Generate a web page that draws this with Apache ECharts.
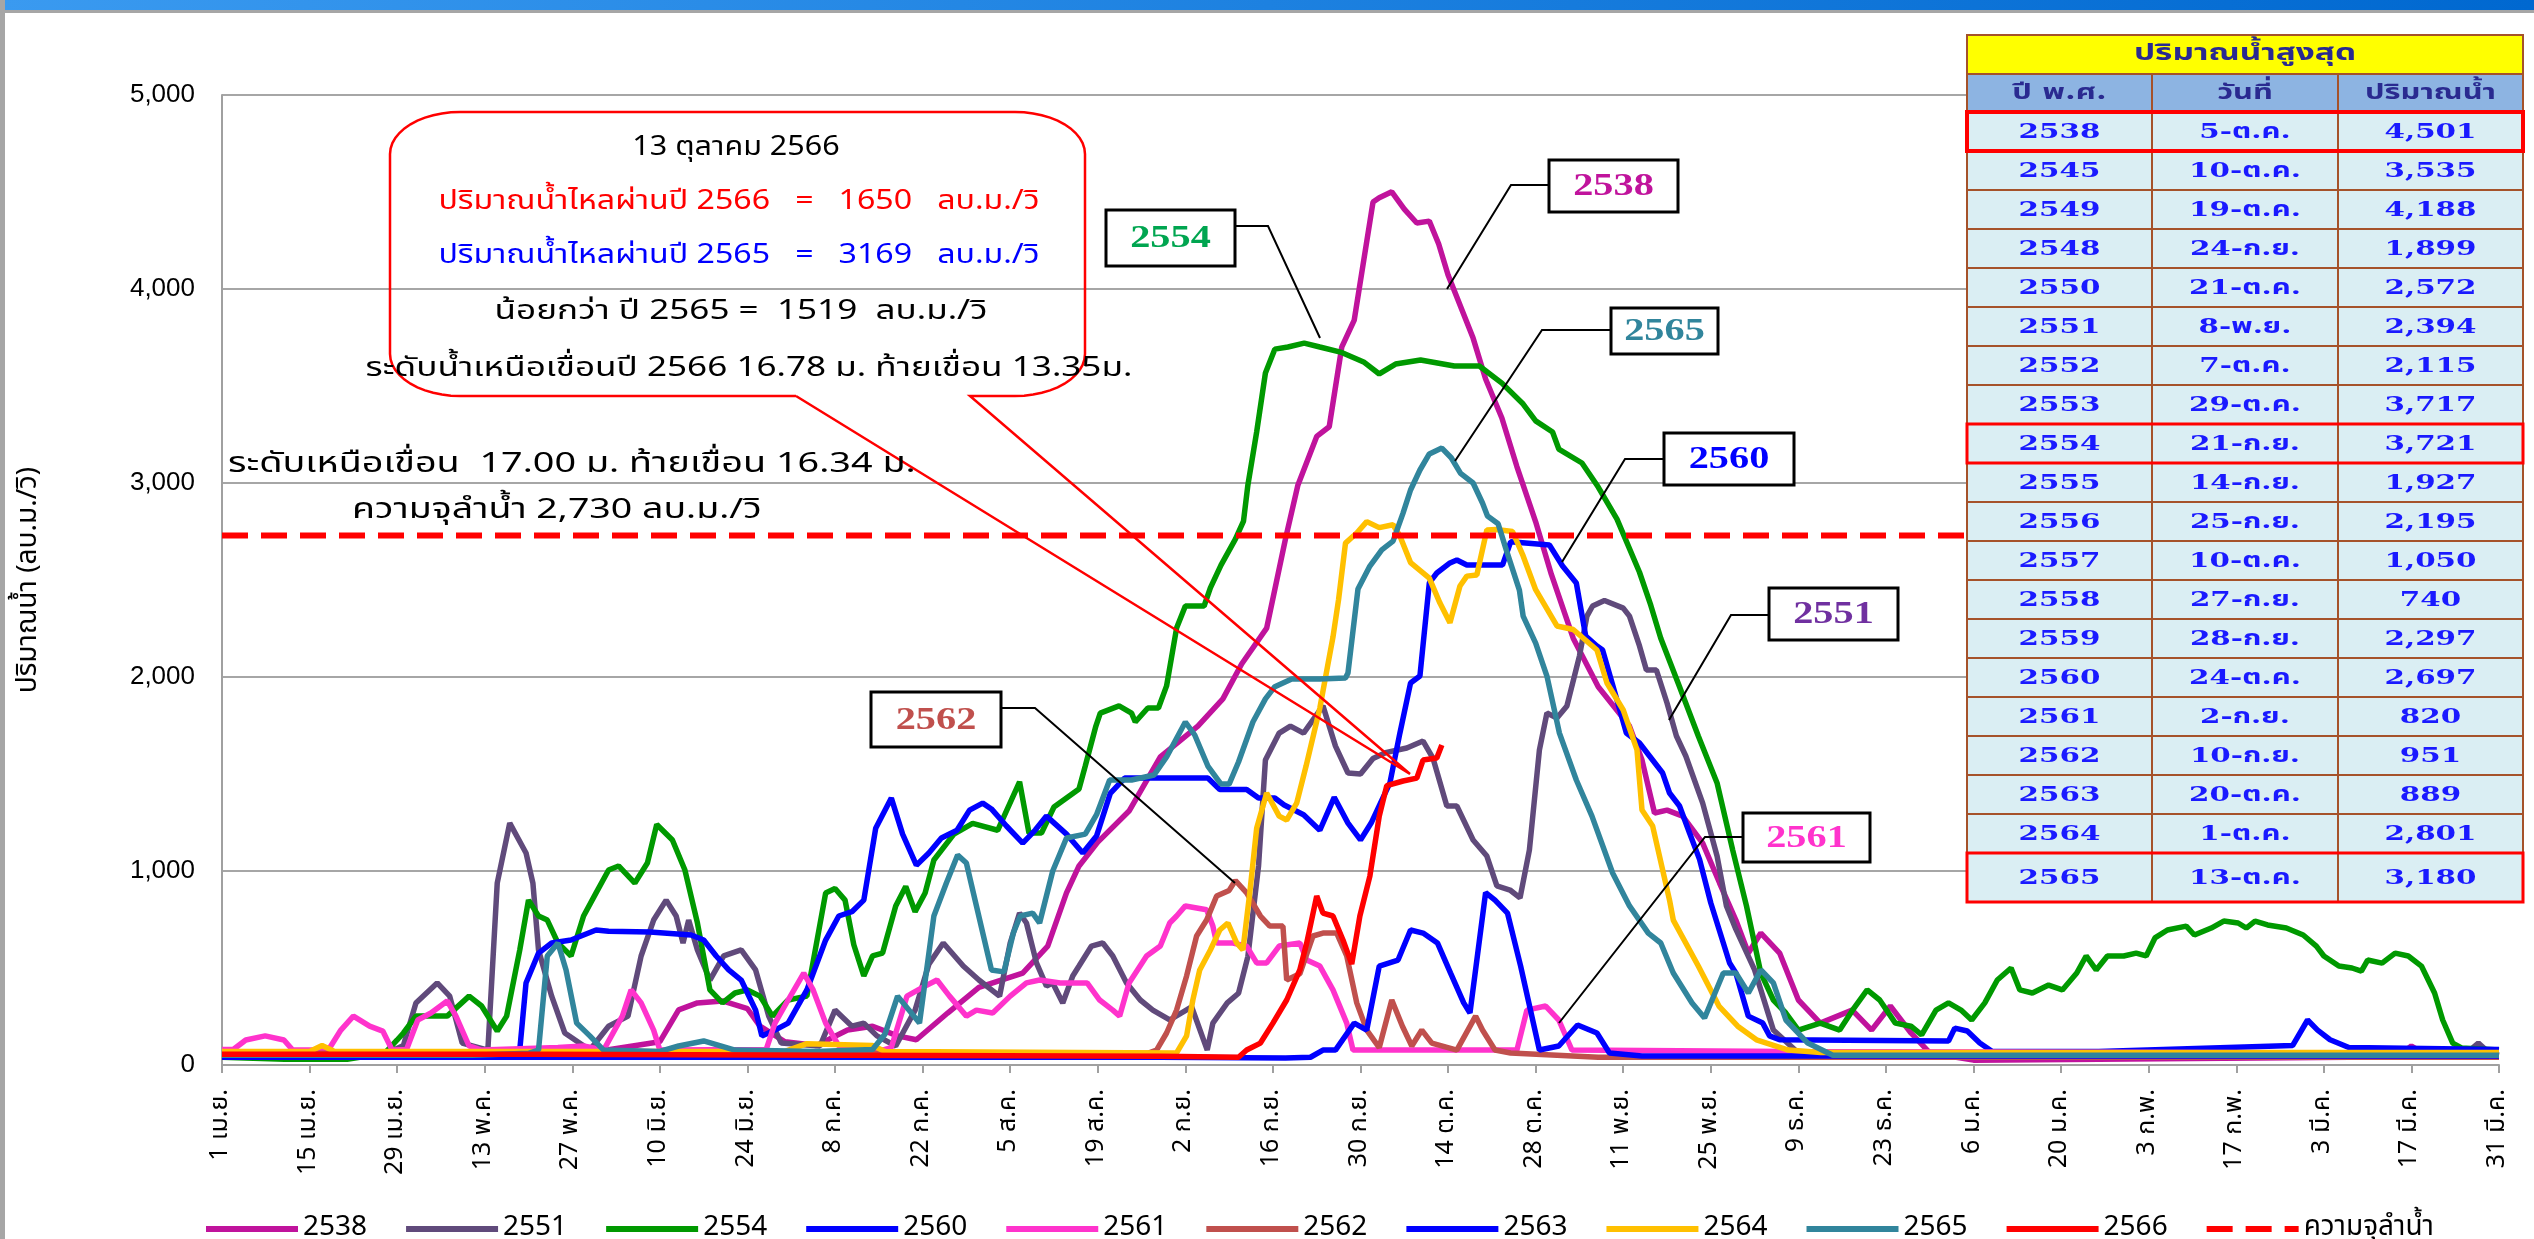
<!DOCTYPE html>
<html>
<head>
<meta charset="utf-8">
<script src="https://cdn.jsdelivr.net/npm/echarts@6/dist/echarts.min.js"></script>
<style>
html,body{margin:0;padding:0;background:#ffffff;}
#chart{width:2534px;height:1239px;}
</style>
</head>
<body>
<div id="chart"></div>
<script>
// ---- axis ticks: water year 1 Apr .. 31 Mar, one tick every 14 days ----
const dayTickLabels = ['1 เม.ย.','15 เม.ย.','29 เม.ย.','13 พ.ค.','27 พ.ค.','10 มิ.ย.','24 มิ.ย.','8 ก.ค.','22 ก.ค.','5 ส.ค.','19 ส.ค.','2 ก.ย.','16 ก.ย.','30 ก.ย.','14 ต.ค.','28 ต.ค.','11 พ.ย.','25 พ.ย.','9 ธ.ค.','23 ธ.ค.','6 ม.ค.','20 ม.ค.','3 ก.พ.','17 ก.พ.','3 มี.ค.','17 มี.ค.','31 มี.ค.'];
const flowTicks = [0, 1000, 2000, 3000, 4000, 5000];

// ---- daily flow (ลบ.ม./วิ), pairs of [day since 1 Apr, flow] ----
const flow2538 = [[0,60],[20,60],[40,60],[60,70],[70,120],[73,284],[76,320],[80,330],[84,290],[86,200],[90,120],[95,100],[100,180],[104,200],[108,150],[111,130],[116,268],[121,400],[128,474],[132,613],[135,887],[137,1026],[140,1149],[145,1309],[150,1588],[156,1747],[160,1887],[163,2067],[167,2252],[170,2711],[172,2990],[175,3240],[177,3290],[179,3700],[181,3840],[184,4448],[185,4470],[187,4501],[189,4412],[191,4340],[193,4350],[194.5,4232],[196,4072],[200,3747],[202,3536],[204.6,3335],[207,3085],[210,2800],[212.5,2530],[216,2200],[220,1950],[225,1747],[227,1572],[229,1299],[231,1314],[233.5,1283],[236.7,1144],[239.4,938],[242,747],[244,577],[246,680],[249,577],[252,335],[255.5,216],[260.6,283],[263.7,180],[266.7,304],[270,165],[273,62],[280,25],[300,30],[340,40],[348,45],[350,98],[353,40],[364,40]];
const flow2551 = [[0,40],[25,40],[29,100],[31,320],[34.4,423],[36.4,355],[38.4,113],[42.5,77],[44,938],[46,1247],[48.6,1093],[49.7,938],[50.6,593],[52.7,355],[54.8,165],[58.8,77],[61.8,200],[64.9,252],[67,562],[69,747],[71,850],[72.6,768],[73.7,629],[74.6,747],[76,593],[78,438],[80.2,562],[83,593],[85.3,490],[87.4,252],[89.4,113],[95.6,98],[98,283],[100.7,200],[102.6,216],[104.7,150],[107.7,98],[110.8,283],[113,520],[115.3,629],[118.5,510],[121,438],[124.3,355],[126,629],[127.5,783],[128.6,732],[130.2,526],[131.8,407],[132.8,423],[134.4,320],[136,459],[137,510],[139,613],[140.8,629],[142.4,562],[144.6,423],[146.8,335],[148.8,283],[151.5,232],[155,300],[157.5,77],[158.4,216],[160.7,320],[162.5,370],[164,560],[165.7,1026],[166.8,1572],[169,1711],[170.8,1747],[172.9,1711],[176,1851],[178,1644],[180,1505],[182,1500],[184,1580],[186,1610],[189.4,1634],[192,1670],[193.6,1580],[195.8,1335],[197.4,1335],[200,1160],[202.2,1077],[203.8,923],[205.9,902],[207.5,861],[209,1108],[210.6,1624],[211.8,1814],[213.4,1789],[215,1851],[217,2108],[218.2,2314],[219.1,2366],[221,2394],[224,2355],[225,2314],[226.6,2160],[227.7,2036],[229.3,2036],[231,1866],[232.5,1696],[234,1593],[236.7,1350],[239,1077],[240.5,820],[242,700],[245,490],[248,180],[252,62],[260,40],[358,40],[360.7,113],[362.5,60],[364,50]];
const flow2554 = [[0,40],[10,30],[20,30],[26,60],[28,129],[29,165],[31,252],[36,252],[39.5,355],[41.5,304],[44,175],[45.5,252],[47.6,593],[49,850],[50.6,768],[52,747],[53.7,629],[55.8,562],[57.8,768],[59.8,887],[61.8,1005],[63.4,1026],[66,938],[68,1041],[69.5,1240],[72,1160],[74,1005],[76,732],[78,387],[80,320],[82,371],[84,387],[86,355],[88,252],[90.5,335],[93.5,355],[96.5,887],[98,910],[99.6,850],[101,620],[102.6,459],[104,562],[105.6,577],[107.7,820],[109.3,920],[110.8,790],[112.4,887],[113.8,1057],[117,1190],[120,1245],[124,1210],[127.5,1460],[129,1196],[131,1196],[133,1330],[137,1423],[138,1541],[139.7,1747],[140.4,1814],[143.4,1851],[145.4,1814],[146,1768],[148,1840],[149.7,1840],[151,1954],[152.6,2252],[154,2366],[157,2366],[158,2459],[159.7,2577],[162,2711],[163.3,2804],[164,2990],[165.4,3263],[166.8,3567],[168.3,3690],[170.4,3701],[173,3721],[175.5,3701],[178.8,3675],[182.5,3624],[185,3562],[187.6,3613],[191.6,3634],[197,3603],[201,3603],[204.6,3515],[208,3407],[210,3320],[212.7,3263],[213.7,3175],[217.4,3103],[220,2979],[223,2814],[226.6,2540],[228.4,2370],[230,2200],[233,1950],[236,1696],[239,1454],[241.5,1108],[243.7,820],[246,474],[248,335],[250,268],[252,180],[255.5,216],[258.6,180],[260.6,280],[263,387],[265,335],[267.5,216],[270,200],[271.7,155],[274,283],[276,320],[278,283],[279.7,232],[281.8,320],[283.8,438],[286,500],[287.4,387],[289.4,371],[292,412],[294.2,387],[296.5,474],[298,562],[299.6,490],[301.4,562],[304,562],[306,577],[307.6,562],[309,655],[311,696],[314,716],[315.3,670],[318,706],[320,742],[322.3,732],[323.6,706],[325,742],[327,722],[330,706],[332.7,670],[334.8,613],[336,562],[338.4,510],[340.5,500],[342,484],[343,541],[345.3,525],[347.4,577],[349.5,562],[351.6,510],[353.7,371],[355,232],[356.6,113],[358,88],[364,77]];
const flow2560 = [[0,60],[30,60],[45,60],[47.6,77],[48.6,423],[50.6,577],[52.7,629],[55.8,644],[59.8,696],[61.8,690],[68.4,686],[75,670],[77,644],[79,562],[81,490],[83,438],[85.3,283],[86.3,150],[88.4,180],[90.5,216],[93.5,387],[96.5,644],[98.6,768],[100.7,790],[102.6,850],[104.5,1220],[107,1376],[108.8,1190],[111,1030],[113,1093],[115,1170],[117.5,1210],[119.5,1314],[121.6,1350],[123,1320],[125.4,1232],[128,1144],[130,1211],[131.8,1283],[135,1190],[137.6,1093],[139.8,1180],[142,1400],[144.3,1479],[157.6,1479],[159.5,1420],[163.8,1420],[165.7,1376],[168.3,1376],[169.8,1340],[172.9,1290],[175.5,1210],[177.8,1380],[180,1247],[182,1160],[183.7,1247],[186.7,1454],[188.3,1711],[190,1969],[191.5,2005],[193,2485],[194.2,2536],[196.3,2588],[197.4,2603],[199,2577],[204.7,2577],[206,2697],[212.2,2680],[214.3,2572],[216.5,2485],[218,2211],[219.8,2160],[220.7,2139],[223,1881],[224.5,1711],[226.6,1660],[228.2,1593],[230.3,1505],[231.4,1402],[233,1335],[234.6,1196],[236.2,1060],[238,835],[241,526],[242,474],[244,252],[246.3,216],[247.4,150],[249,130],[276,124],[277,190],[279,175],[281,113],[283,70],[300,70],[331,100],[333.4,232],[335,180],[337,130],[340,90],[364,80]];
const flow2561 = [[0,80],[1.8,80],[3.8,129],[6.9,150],[9.9,129],[11.3,77],[17,77],[19,180],[21,252],[23.6,200],[25.7,175],[27.2,77],[29.5,80],[31.3,232],[33.4,268],[36,330],[37.4,252],[39.5,98],[41.5,77],[53.7,90],[57.8,98],[61,77],[64,252],[65.4,387],[67,320],[69,180],[70,77],[87,80],[88.4,216],[90.5,335],[93,474],[94.5,387],[96.5,216],[98.6,98],[105.6,77],[107,90],[109.5,355],[112,400],[114.3,438],[116.3,355],[119,252],[120.6,283],[123.2,268],[126,355],[128.6,423],[130.7,438],[134,423],[138.3,423],[140.3,335],[142.4,283],[143.5,252],[145,423],[147.8,562],[150,613],[151.5,732],[152.6,768],[154,820],[157.4,800],[158.4,716],[159,629],[161.6,629],[163.8,613],[165.4,526],[167,526],[169,613],[172.3,629],[173.4,541],[175.5,510],[177.6,387],[179.8,216],[180.8,77],[207,77],[208.6,283],[211.6,304],[213.7,232],[215.8,77],[250,70],[364,60]];
const flow2562 = [[0,60],[148,60],[149.4,77],[151,165],[152.6,283],[154.2,459],[155.8,665],[157.4,747],[159,871],[161,900],[162,951],[163.8,887],[166,768],[167.5,716],[169.6,716],[170.2,438],[172.3,470],[174.4,665],[176,680],[178.2,680],[179.8,562],[181.4,320],[183,180],[185,90],[187,335],[188.7,200],[190.2,98],[191.8,180],[193.4,113],[197.4,77],[200.4,252],[201.5,180],[203.5,77],[206,62],[220,40],[364,40]];
const flow2563 = [[0,40],[100,40],[150,40],[170,36],[174,40],[176,77],[178,77],[181,216],[183,180],[185,510],[188,541],[190,696],[192,680],[194.3,629],[196.4,474],[198.5,320],[199.5,268],[202,889],[203.5,850],[205.5,783],[207.6,510],[210.6,77],[213.7,98],[216.7,206],[219.8,165],[221.8,62],[227,46],[364,46]];
const flow2564 = [[0,70],[14,70],[16,100],[18,70],[90,70],[93.5,110],[104,100],[106,70],[152.6,62],[154.2,150],[155.2,335],[156.3,490],[158,593],[159.5,696],[160.8,732],[162.2,629],[163.2,593],[164.3,887],[165.4,1220],[167,1402],[169,1283],[170.2,1263],[171.8,1350],[173.3,1541],[175.5,1840],[177.6,2206],[178.5,2400],[179.6,2690],[181.4,2742],[183,2801],[185,2770],[187.2,2785],[188.3,2727],[190,2590],[193,2510],[194.7,2381],[196.3,2280],[197.9,2469],[199,2520],[200.6,2526],[202.2,2758],[203.7,2760],[206.3,2750],[208,2624],[210,2450],[213.4,2263],[216,2245],[219.8,2139],[221.4,1969],[224,1830],[226.2,1624],[227,1314],[228.7,1232],[231.4,850],[232,747],[236,510],[239.3,304],[242.3,200],[245.3,130],[250.4,77],[255.6,65],[364,65]];
const flow2565 = [[0,50],[20,50],[40,50],[49,60],[50.6,77],[52,562],[53.7,629],[55,490],[56.7,216],[58.8,150],[61,77],[70,70],[73,98],[77,124],[82,77],[95,70],[104,80],[106,160],[108,355],[111.5,216],[113.8,768],[115.8,938],[117.6,1082],[119,1041],[120.6,820],[123,490],[125,480],[126.5,680],[127.6,768],[129.6,783],[130.7,732],[132.8,1000],[135,1170],[138,1190],[139.8,1290],[141.9,1469],[145.4,1469],[149,1495],[151,1588],[154,1768],[155.5,1701],[157.6,1541],[159.7,1448],[161,1448],[162.5,1562],[164.8,1768],[166.8,1887],[168.3,1950],[171,1990],[175.5,1990],[179.6,1995],[180,2021],[181.6,2454],[183.5,2572],[185.4,2655],[187.2,2700],[188.8,2845],[190,2964],[191.5,3067],[193,3150],[195,3180],[196.5,3130],[198,3050],[200,3000],[201.5,2897],[202.3,2830],[204,2790],[205.3,2655],[207.4,2448],[208,2314],[210,2175],[211.8,2005],[213.8,1711],[216.5,1469],[219,1283],[222.3,990],[225,820],[228,680],[230,629],[232,474],[235,320],[237,242],[240,474],[242,474],[244,371],[246,490],[248,423],[250,232],[253.5,113],[257.5,50],[270,50],[364,50]];
const flow2566 = [[0,55],[50,55],[100,50],[150,45],[162.5,40],[163.8,77],[166,113],[168,216],[170.2,335],[172.3,490],[173.4,629],[175,871],[176,783],[177.6,768],[179.2,644],[180.6,520],[181.9,768],[183.5,974],[185,1283],[186.2,1440],[188.8,1464],[191,1479],[192,1572],[194.2,1582],[195,1650]];
const channelCapacity = 2730;

// ---- yearly maximum table ----
const tableYears = ['2538','2545','2549','2548','2550','2551','2552','2553','2554','2555','2556','2557','2558','2559','2560','2561','2562','2563','2564','2565'];
const tableDates = ['5-ต.ค.','10-ต.ค.','19-ต.ค.','24-ก.ย.','21-ต.ค.','8-พ.ย.','7-ต.ค.','29-ต.ค.','21-ก.ย.','14-ก.ย.','25-ก.ย.','10-ต.ค.','27-ก.ย.','28-ก.ย.','24-ต.ค.','2-ก.ย.','10-ก.ย.','20-ต.ค.','1-ต.ค.','13-ต.ค.'];
const tableMax = [4501,3535,4188,1899,2572,2394,2115,3717,3721,1927,2195,1050,740,2297,2697,820,951,889,2801,3180];
const highlightedYears = ['2538','2554','2565'];

// ---- series styling ----
const yearSeries = [
  {name:'2538', data:flow2538, color:'#c0139c'},
  {name:'2551', data:flow2551, color:'#604a7b'},
  {name:'2554', data:flow2554, color:'#009900'},
  {name:'2560', data:flow2560, color:'#0000ff'},
  {name:'2561', data:flow2561, color:'#ff33cc'},
  {name:'2562', data:flow2562, color:'#c0504d'},
  {name:'2563', data:flow2563, color:'#0000ff'},
  {name:'2564', data:flow2564, color:'#ffc000'},
  {name:'2565', data:flow2565, color:'#31859c'},
  {name:'2566', data:flow2566, color:'#ff0000'}
];
const capacityName = 'ความจุลำน้ำ';

const thaiFont = "'Noto Sans Thai','Noto Sans','DejaVu Sans',sans-serif";
const latinFont = "'Liberation Sans',Arial,sans-serif";
const tableFont = "'DejaVu Serif','Noto Sans Thai',serif";

const chart = echarts.init(document.getElementById('chart'), null, {renderer:'canvas'});

const series = yearSeries.map(s => ({
  name: s.name, type: 'line', data: s.data, symbol: 'none', showSymbol: false,
  lineStyle: {width: 5.5, color: s.color}, itemStyle: {color: s.color},
  emphasis: {disabled: true}, animation: false
}));
series.push({
  name: capacityName, type: 'line', symbol: 'none', showSymbol: false,
  data: [[0, channelCapacity], [364, channelCapacity]],
  lineStyle: {width: 6, color: '#ff0000', type: [26, 13]}, itemStyle: {color: '#ff0000'},
  emphasis: {disabled: true}, animation: false, z: 3
});

// ---- annotation graphics ----
const g = [];
function txt(x, y, text, opt) {
  opt = opt || {};
  g.push({
    type: 'text', x: x, y: y, scaleX: opt.scaleX || 1, z: 200,
    style: {
      x: 0, y: 0, text: text, fill: opt.color || '#000',
      fontSize: opt.size || 24, fontFamily: opt.family || thaiFont, fontWeight: opt.weight || 'normal',
      align: opt.align || 'center', verticalAlign: 'middle',
      textAlign: opt.align || 'center', textVerticalAlign: 'middle'
    }
  });
}
function rect(x, y, w, h, fill, stroke, lw) {
  g.push({type: 'rect', z: 190, shape: {x: x, y: y, width: w, height: h},
    style: {fill: fill || 'none', stroke: stroke || 'none', lineWidth: lw || 0}});
}
function line(points, color, lw) {
  g.push({type: 'polyline', z: 195, shape: {points: points}, style: {stroke: color, lineWidth: lw, fill: 'none'}});
}
// quarter of an ellipse as a list of points (angles in degrees, screen coords)
function arcPts(cx, cy, rx, ry, a0, a1) {
  const pts = [];
  for (let i = 0; i <= 12; i++) {
    const a = (a0 + (a1 - a0) * i / 12) * Math.PI / 180;
    pts.push([cx + rx * Math.cos(a), cy + ry * Math.sin(a)]);
  }
  return pts;
}

// page frame: blue title strip and grey border
g.push({type: 'rect', z: 180, shape: {x: 0, y: 0, width: 2534, height: 10},
  style: {fill: new echarts.graphic.LinearGradient(0, 0, 1, 0, [{offset: 0, color: '#3a9af0'}, {offset: 1, color: '#0068d0'}])}});
rect(0, 10, 2534, 3, '#a6a6a6');
rect(0, 0, 5, 1239, '#a6a6a6');

// callout for the latest reading (rounded box with a pointer)
const cb = {l: 390, r: 1085, t: 112, b: 396, rx: 70, ry: 42};
const calloutPts = [[796, cb.b], [1410, 774], [970, cb.b]]
  .concat(arcPts(cb.r - cb.rx, cb.b - cb.ry, cb.rx, cb.ry, 90, 0))
  .concat(arcPts(cb.r - cb.rx, cb.t + cb.ry, cb.rx, cb.ry, 0, -90))
  .concat(arcPts(cb.l + cb.rx, cb.t + cb.ry, cb.rx, cb.ry, -90, -180))
  .concat(arcPts(cb.l + cb.rx, cb.b - cb.ry, cb.rx, cb.ry, 180, 90))
  .concat([[796, cb.b]]);
line(calloutPts, '#ff0000', 2.5);
txt(736, 150, '13 ตุลาคม 2566', {size: 27, scaleX: 1.13});
txt(739, 204, 'ปริมาณน้ำไหลผ่านปี 2566   =   1650   ลบ.ม./วิ', {size: 27, color: '#ff0000', scaleX: 1.19});
txt(739, 258, 'ปริมาณน้ำไหลผ่านปี 2565   =   3169   ลบ.ม./วิ', {size: 27, color: '#0000ff', scaleX: 1.19});
txt(741, 314, 'น้อยกว่า ปี 2565 =  1519  ลบ.ม./วิ', {size: 27, scaleX: 1.3});
txt(749, 371, 'ระดับน้ำเหนือเขื่อนปี 2566 16.78 ม. ท้ายเขื่อน 13.35ม.', {size: 27, scaleX: 1.3});
txt(228, 466, 'ระดับเหนือเขื่อน  17.00 ม. ท้ายเขื่อน 16.34 ม.', {size: 28, align: 'left', scaleX: 1.35});
txt(352, 512, 'ความจุลำน้ำ 2,730 ลบ.ม./วิ', {size: 28, align: 'left', scaleX: 1.34});

// year tags with leader lines
const yearTags = [
  {year: '2554', color: '#00a550', box: [1106, 210, 129, 56], leader: [[1235, 226], [1268, 226], [1320, 338]]},
  {year: '2538', color: '#c0139c', box: [1549, 160, 129, 52], leader: [[1549, 185], [1511, 185], [1447, 289]]},
  {year: '2565', color: '#31859c', box: [1611, 308, 107, 46], leader: [[1611, 330], [1542, 330], [1455, 461]]},
  {year: '2560', color: '#0000ff', box: [1664, 433, 130, 52], leader: [[1664, 459], [1625, 459], [1562, 562]]},
  {year: '2551', color: '#7030a0', box: [1769, 588, 129, 52], leader: [[1769, 615], [1731, 615], [1669, 720]]},
  {year: '2561', color: '#ff33cc', box: [1743, 813, 127, 49], leader: [[1743, 837], [1705, 837], [1559, 1023]]},
  {year: '2562', color: '#c0504d', box: [871, 692, 130, 55], leader: [[1001, 708], [1035, 708], [1235, 883]]}
];
yearTags.forEach(t => {
  line(t.leader, '#000000', 2);
  rect(t.box[0], t.box[1], t.box[2], t.box[3], '#ffffff', '#000000', 3);
  txt(t.box[0] + t.box[2] / 2, t.box[1] + t.box[3] / 2 + 1, t.year,
    {size: 31, family: "'Liberation Serif','Times New Roman',serif", weight: 'bold', color: t.color, scaleX: 1.3});
});

// yearly maximum table
const colX = [1967, 2152, 2338, 2523];
const tTop = 35, titleH = 39, headH = 38, rowH = 39, lastRowH = 49;
const border = '#a5522a';
rect(colX[0], tTop, colX[3] - colX[0], titleH, '#ffff00', border, 2);
txt((colX[0] + colX[3]) / 2, tTop + titleH / 2, 'ปริมาณน้ำสูงสุด', {size: 23, weight: 'bold', color: '#2a2a90', family: tableFont, scaleX: 1.45});
const headY = tTop + titleH;
['ปี พ.ศ.', 'วันที่', 'ปริมาณน้ำ'].forEach((h, c) => {
  rect(colX[c], headY, colX[c + 1] - colX[c], headH, '#8db4e2', border, 2);
  txt((colX[c] + colX[c + 1]) / 2, headY + headH / 2, h, {size: 22, weight: 'bold', color: '#2a2a90', family: tableFont, scaleX: 1.4});
});
let rowY = headY + headH;
const rowTops = [];
tableYears.forEach((yr, i) => {
  const h = i === tableYears.length - 1 ? lastRowH : rowH;
  rowTops.push([rowY, h]);
  const cells = [yr, tableDates[i], tableMax[i].toLocaleString('en-US')];
  cells.forEach((v, c) => {
    rect(colX[c], rowY, colX[c + 1] - colX[c], h, '#daeef3', border, 2);
    txt((colX[c] + colX[c + 1]) / 2, rowY + h / 2 + 1, v, {size: 21, weight: 'bold', color: '#1a1aff', family: tableFont, scaleX: 1.4});
  });
  rowY += h;
});
tableYears.forEach((yr, i) => {
  if (highlightedYears.indexOf(yr) >= 0) {
    const r = rowTops[i];
    g.push({type: 'rect', z: 199, shape: {x: colX[0], y: r[0], width: colX[3] - colX[0], height: r[1]},
      style: {fill: 'none', stroke: '#ff0000', lineWidth: yr === '2538' ? 4 : 3}});
  }
});

chart.setOption({
  animation: false,
  backgroundColor: '#ffffff',
  grid: {left: 222, right: 35, top: 95, bottom: 174},
  xAxis: {
    type: 'value', min: 0, max: 364, interval: 14,
    axisLine: {show: true, lineStyle: {color: '#a0a0a0', width: 2}},
    axisTick: {show: true, length: 8, lineStyle: {color: '#a0a0a0', width: 2}},
    splitLine: {show: false},
    axisLabel: {
      rotate: 90, margin: 24, fontSize: 25, color: '#000', fontFamily: thaiFont,
      showMinLabel: true, showMaxLabel: true,
      formatter: v => dayTickLabels[Math.round(v / 14)] || ''
    }
  },
  yAxis: {
    type: 'value', min: flowTicks[0], max: flowTicks[flowTicks.length - 1], interval: 1000,
    name: 'ปริมาณน้ำ (ลบ.ม./วิ)', nameLocation: 'middle', nameGap: 178, nameRotate: 90,
    nameTextStyle: {fontSize: 28, color: '#000', fontFamily: thaiFont},
    axisLine: {show: true, lineStyle: {color: '#a0a0a0', width: 2}},
    axisTick: {show: false},
    splitLine: {show: true, lineStyle: {color: '#a6a6a6', width: 2}},
    axisLabel: {margin: 27, fontSize: 26, color: '#000', fontFamily: latinFont,
      formatter: v => v.toLocaleString('en-US')}
  },
  legend: {
    left: 198, top: 1210, itemWidth: 92, itemHeight: 14, itemGap: 36,
    itemStyle: {opacity: 0},
    lineStyle: {width: 6},
    textStyle: {fontSize: 28, color: '#000', fontFamily: thaiFont},
    data: yearSeries.map(s => s.name).concat([capacityName])
  },
  series: series,
  graphic: g
});
</script>
</body>
</html>
